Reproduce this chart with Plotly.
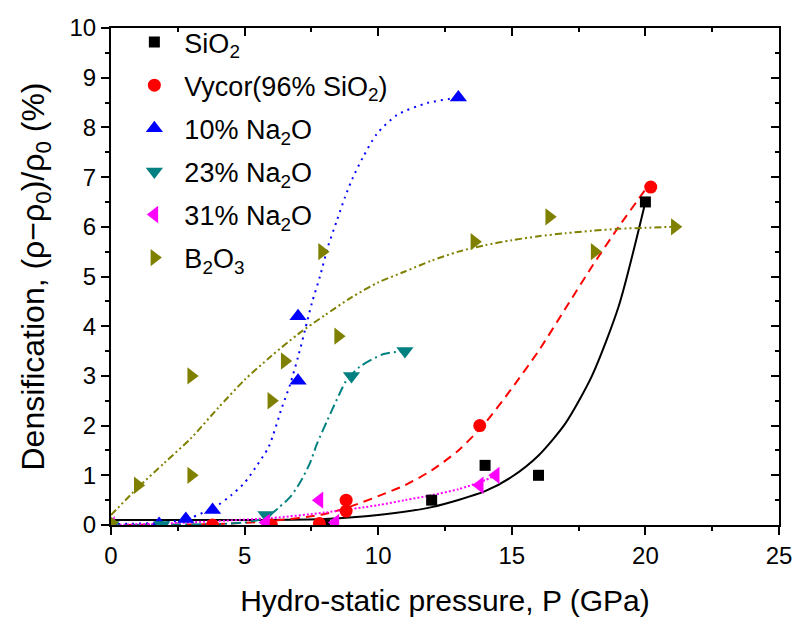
import plotly.graph_objects as go

# ---------------- data ----------------
sio2_x = [0.0, 8.0, 12.0, 14.0, 16.0, 20.0]
sio2_y = [0.0, 0.0, 0.5, 1.2, 1.0, 6.5]
sio2_fit_x = [0, 5, 8, 10, 12, 14, 15, 16, 17, 18, 19, 20]
sio2_fit_y = [0.1, 0.1, 0.12, 0.2, 0.36, 0.68, 0.97, 1.4, 2.04, 3.0, 4.4, 6.5]

vycor_x = [3.8, 6.0, 7.8, 8.8, 8.8, 13.8, 20.2]
vycor_y = [0.0, 0.0, 0.03, 0.5, 0.28, 2.0, 6.8]
vycor_fit_x = [0, 4, 6, 8, 9, 10, 11, 12, 13, 14, 15, 16, 17, 18, 19, 20]
vycor_fit_y = [0.0, 0.02, 0.08, 0.22, 0.38, 0.58, 0.8, 1.1, 1.5, 2.05, 2.75, 3.5, 4.35, 5.2, 6.0, 6.75]

na10_x = [0.0, 1.8, 2.8, 3.8, 7.0, 7.0, 13.0]
na10_y = [0.0, 0.02, 0.12, 0.3, 4.2, 2.9, 8.6]
na10_fit_x = [0, 2, 3, 4, 4.5, 5, 5.4, 5.9, 6.4, 6.7, 7.0, 7.26, 7.52, 7.82, 8.12, 8.45, 8.76,
              9.06, 9.43, 9.95, 10.7, 11.83, 13]
na10_fit_y = [0.02, 0.05, 0.15, 0.4, 0.6, 0.85, 1.15, 1.57, 2.37, 2.82, 3.38, 3.92, 4.47, 5.0, 5.6,
              6.12, 6.6, 7.0, 7.4, 7.87, 8.25, 8.49, 8.6]

na23_x = [0.0, 1.9, 5.8, 9.0, 11.0]
na23_y = [0.0, 0.0, 0.2, 3.0, 3.5]
na23_fit_x = [0, 4, 5, 5.5, 5.95, 6.3, 6.7, 7.07, 7.45, 7.7, 8.1, 8.57, 8.8, 9.3, 10.2, 11]
na23_fit_y = [0.0, 0.02, 0.05, 0.1, 0.2, 0.36, 0.56, 0.85, 1.25, 1.62, 2.11, 2.66, 2.9, 3.18, 3.44, 3.5]

na31_x = [0.0, 5.8, 7.8, 8.4, 13.8, 14.4]
na31_y = [0.0, 0.05, 0.5, 0.05, 0.8, 1.0]
na31_fit_x = [0, 2, 4, 6, 8, 10, 11, 12, 13, 14, 14.4]
na31_fit_y = [0.0, 0.03, 0.08, 0.14, 0.25, 0.4, 0.5, 0.6, 0.72, 0.9, 1.0]

b2o3_x = [0.0, 1.0, 3.0, 3.0, 6.0, 6.5, 7.9, 8.5, 13.6, 16.4, 18.1, 21.1]
b2o3_y = [0.05, 0.8, 1.0, 3.0, 2.5, 3.3, 5.5, 3.8, 5.7, 6.2, 5.5, 6.0]
b2o3_fit_x = [0, 1, 2, 3, 4, 5, 6, 7, 8, 9, 10, 11, 12, 13, 14, 15, 16, 17, 18, 19, 20, 21]
b2o3_fit_y = [0.2, 0.75, 1.25, 1.75, 2.35, 2.92, 3.4, 3.84, 4.22, 4.58, 4.88, 5.1, 5.32, 5.5,
              5.63, 5.73, 5.81, 5.87, 5.92, 5.96, 5.98, 6.0]

names = ["SiO<sub>2</sub>", "Vycor(96% SiO<sub>2</sub>)", "10% Na<sub>2</sub>O",
         "23% Na<sub>2</sub>O", "31% Na<sub>2</sub>O", "B<sub>2</sub>O<sub>3</sub>"]
x_ticks = [0, 5, 10, 15, 20, 25]
y_ticks = [0, 1, 2, 3, 4, 5, 6, 7, 8, 9, 10]

# ---------------- styles ----------------
series = [
    (sio2_x, sio2_y, sio2_fit_x, sio2_fit_y, "#000000", "square", 11, "solid"),
    (vycor_x, vycor_y, vycor_fit_x, vycor_fit_y, "#FF0000", "circle", 13, "9px,6px"),
    (na10_x, na10_y, na10_fit_x, na10_fit_y, "#0000FF", "triangle-up", 15, "2px,5px"),
    (na23_x, na23_y, na23_fit_x, na23_fit_y, "#008080", "triangle-down", 15, "10px,4px,2px,4px"),
    (na31_x, na31_y, na31_fit_x, na31_fit_y, "#FF00FF", "triangle-left", 15, "2px,2px"),
    (b2o3_x, b2o3_y, b2o3_fit_x, b2o3_fit_y, "#808000", "triangle-right", 15, "7px,3px,2px,3px,2px,3px"),
]

fig = go.Figure()
FONT = "Liberation Sans, Arial, sans-serif"

for i, (px, py, fx, fy, col, sym, sz, dash) in enumerate(series):
    fig.add_trace(go.Scatter(x=fx, y=fy, mode="lines",
                             line=dict(color=col, width=2, dash=dash, shape="spline", smoothing=0.7),
                             showlegend=False, hoverinfo="skip"))
for i, (px, py, fx, fy, col, sym, sz, dash) in enumerate(series):
    fig.add_trace(go.Scatter(x=px, y=py, mode="markers", name=names[i], legendgroup="g%d" % i,
                             marker=dict(symbol=sym, size=sz, color=col, line=dict(width=0))))

# empty trace to anchor mirrored axes (top/right, inward ticks)
fig.add_trace(go.Scatter(x=[], y=[], xaxis="x2", yaxis="y2", showlegend=False, hoverinfo="skip"))

axis_common = dict(showgrid=False, zeroline=False, linecolor="black", linewidth=2,
                   tickcolor="black", tickwidth=2, ticklen=8, automargin=False)
fig.update_layout(
    width=799, height=618,
    margin=dict(l=111, r=20, t=28, b=93),
    paper_bgcolor="white", plot_bgcolor="white",
    font=dict(family=FONT, color="black", size=24),
    xaxis=dict(range=[0, 25], tickvals=x_ticks, ticks="outside", showline=True, mirror=True,
               minor=dict(dtick=2.5, ticklen=4, tickwidth=2, tickcolor="black", ticks="outside"),
               tickfont=dict(size=24),
               title=dict(text="Hydro-static pressure, P (GPa)", font=dict(size=30), standoff=22),
               **axis_common),
    yaxis=dict(range=[0, 10], tickvals=y_ticks, ticks="outside", showline=True, mirror=True,
               minor=dict(dtick=0.5, ticklen=4, tickwidth=2, tickcolor="black", ticks="outside"),
               tickfont=dict(size=24),
               title=dict(text="Densification, (ρ−ρ<sub>0</sub>)/ρ<sub>0</sub> (%)", font=dict(size=32), standoff=15),
               **axis_common),
    xaxis2=dict(range=[0, 25], overlaying="x", side="top", tickvals=x_ticks, ticks="inside",
                showticklabels=False, showline=False, automargin=False,
                minor=dict(dtick=2.5, ticklen=4, tickwidth=2, tickcolor="black", ticks="inside"),
                showgrid=False, zeroline=False, tickcolor="black", tickwidth=2, ticklen=8),
    yaxis2=dict(range=[0, 10], overlaying="y", side="right", tickvals=y_ticks, ticks="inside",
                showticklabels=False, showline=False, automargin=False,
                minor=dict(dtick=0.5, ticklen=4, tickwidth=2, tickcolor="black", ticks="inside"),
                showgrid=False, zeroline=False, tickcolor="black", tickwidth=2, ticklen=8),
    legend=dict(x=0.02, y=1.02, xanchor="left", yanchor="top", bgcolor="rgba(0,0,0,0)",
                font=dict(size=27), tracegroupgap=5, itemwidth=50),
    showlegend=True,
)

fig.write_html("out.html")
